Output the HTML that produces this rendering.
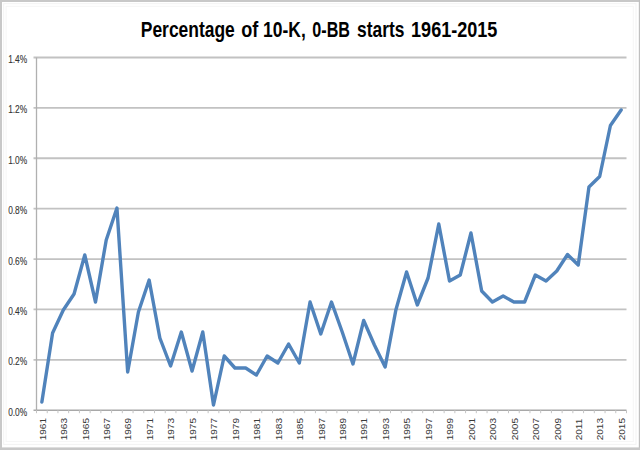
<!DOCTYPE html>
<html><head><meta charset="utf-8"><style>
html,body{margin:0;padding:0;background:#fff;}
svg{display:block;}
</style></head><body>
<svg width="640" height="450" viewBox="0 0 640 450">
<rect x="0" y="0" width="640" height="450" fill="#fff"/>
<rect x="0" y="0" width="640" height="2" fill="#c8c8c8"/><rect x="0" y="0" width="2" height="450" fill="#c8c8c8"/><rect x="638.8" y="0" width="1.2" height="450" fill="#c0c0c0"/><rect x="0" y="447.4" width="640" height="2.6" fill="#c8c8c8"/>
<rect x="3.7" y="3.7" width="632.3" height="440.7" fill="none" stroke="#f3f3f3" stroke-width="1"/>
<rect x="6.1" y="6.3" width="627.2" height="435.2" fill="none" stroke="#f6f6f6" stroke-width="1"/>
<g font-family="'Liberation Sans', sans-serif" font-weight="bold" font-size="21.8" fill="#000">
<text transform="translate(140.80,36.5) scale(0.8000,1)">Percentage</text>
<text transform="translate(241.17,36.5) scale(0.8300,1)">of</text>
<text transform="translate(263.10,36.5) scale(0.8000,1)">10-K,</text>
<text transform="translate(312.36,36.5) scale(0.7408,1)">0-BB</text>
<text transform="translate(357.00,36.5) scale(0.7983,1)">starts</text>
<text transform="translate(411.07,36.5) scale(0.8282,1)">1961-2015</text>
</g>
<g>
<line x1="33.5" y1="359.81" x2="626.5" y2="359.81" stroke="#c2c2c2" stroke-width="1.8"/>
<line x1="33.5" y1="309.43" x2="626.5" y2="309.43" stroke="#c2c2c2" stroke-width="1.8"/>
<line x1="33.5" y1="259.04" x2="626.5" y2="259.04" stroke="#c2c2c2" stroke-width="1.8"/>
<line x1="33.5" y1="208.66" x2="626.5" y2="208.66" stroke="#c2c2c2" stroke-width="1.8"/>
<line x1="33.5" y1="158.27" x2="626.5" y2="158.27" stroke="#c2c2c2" stroke-width="1.8"/>
<line x1="33.5" y1="107.89" x2="626.5" y2="107.89" stroke="#c2c2c2" stroke-width="1.8"/>
<line x1="33.5" y1="57.50" x2="626.5" y2="57.50" stroke="#c2c2c2" stroke-width="1.8"/>
</g>
<line x1="36.5" y1="57.5" x2="36.5" y2="410.2" stroke="#b0b0b0" stroke-width="1.3"/>
<line x1="33.5" y1="410.2" x2="626.5" y2="410.2" stroke="#a8a8a8" stroke-width="1.6"/>
<g>
<line x1="36.50" y1="410.2" x2="36.50" y2="413.2" stroke="#c4c4c4" stroke-width="1"/>
<line x1="47.23" y1="410.2" x2="47.23" y2="413.2" stroke="#c4c4c4" stroke-width="1"/>
<line x1="57.95" y1="410.2" x2="57.95" y2="413.2" stroke="#c4c4c4" stroke-width="1"/>
<line x1="68.68" y1="410.2" x2="68.68" y2="413.2" stroke="#c4c4c4" stroke-width="1"/>
<line x1="79.41" y1="410.2" x2="79.41" y2="413.2" stroke="#c4c4c4" stroke-width="1"/>
<line x1="90.14" y1="410.2" x2="90.14" y2="413.2" stroke="#c4c4c4" stroke-width="1"/>
<line x1="100.86" y1="410.2" x2="100.86" y2="413.2" stroke="#c4c4c4" stroke-width="1"/>
<line x1="111.59" y1="410.2" x2="111.59" y2="413.2" stroke="#c4c4c4" stroke-width="1"/>
<line x1="122.32" y1="410.2" x2="122.32" y2="413.2" stroke="#c4c4c4" stroke-width="1"/>
<line x1="133.05" y1="410.2" x2="133.05" y2="413.2" stroke="#c4c4c4" stroke-width="1"/>
<line x1="143.77" y1="410.2" x2="143.77" y2="413.2" stroke="#c4c4c4" stroke-width="1"/>
<line x1="154.50" y1="410.2" x2="154.50" y2="413.2" stroke="#c4c4c4" stroke-width="1"/>
<line x1="165.23" y1="410.2" x2="165.23" y2="413.2" stroke="#c4c4c4" stroke-width="1"/>
<line x1="175.95" y1="410.2" x2="175.95" y2="413.2" stroke="#c4c4c4" stroke-width="1"/>
<line x1="186.68" y1="410.2" x2="186.68" y2="413.2" stroke="#c4c4c4" stroke-width="1"/>
<line x1="197.41" y1="410.2" x2="197.41" y2="413.2" stroke="#c4c4c4" stroke-width="1"/>
<line x1="208.14" y1="410.2" x2="208.14" y2="413.2" stroke="#c4c4c4" stroke-width="1"/>
<line x1="218.86" y1="410.2" x2="218.86" y2="413.2" stroke="#c4c4c4" stroke-width="1"/>
<line x1="229.59" y1="410.2" x2="229.59" y2="413.2" stroke="#c4c4c4" stroke-width="1"/>
<line x1="240.32" y1="410.2" x2="240.32" y2="413.2" stroke="#c4c4c4" stroke-width="1"/>
<line x1="251.05" y1="410.2" x2="251.05" y2="413.2" stroke="#c4c4c4" stroke-width="1"/>
<line x1="261.77" y1="410.2" x2="261.77" y2="413.2" stroke="#c4c4c4" stroke-width="1"/>
<line x1="272.50" y1="410.2" x2="272.50" y2="413.2" stroke="#c4c4c4" stroke-width="1"/>
<line x1="283.23" y1="410.2" x2="283.23" y2="413.2" stroke="#c4c4c4" stroke-width="1"/>
<line x1="293.95" y1="410.2" x2="293.95" y2="413.2" stroke="#c4c4c4" stroke-width="1"/>
<line x1="304.68" y1="410.2" x2="304.68" y2="413.2" stroke="#c4c4c4" stroke-width="1"/>
<line x1="315.41" y1="410.2" x2="315.41" y2="413.2" stroke="#c4c4c4" stroke-width="1"/>
<line x1="326.14" y1="410.2" x2="326.14" y2="413.2" stroke="#c4c4c4" stroke-width="1"/>
<line x1="336.86" y1="410.2" x2="336.86" y2="413.2" stroke="#c4c4c4" stroke-width="1"/>
<line x1="347.59" y1="410.2" x2="347.59" y2="413.2" stroke="#c4c4c4" stroke-width="1"/>
<line x1="358.32" y1="410.2" x2="358.32" y2="413.2" stroke="#c4c4c4" stroke-width="1"/>
<line x1="369.05" y1="410.2" x2="369.05" y2="413.2" stroke="#c4c4c4" stroke-width="1"/>
<line x1="379.77" y1="410.2" x2="379.77" y2="413.2" stroke="#c4c4c4" stroke-width="1"/>
<line x1="390.50" y1="410.2" x2="390.50" y2="413.2" stroke="#c4c4c4" stroke-width="1"/>
<line x1="401.23" y1="410.2" x2="401.23" y2="413.2" stroke="#c4c4c4" stroke-width="1"/>
<line x1="411.95" y1="410.2" x2="411.95" y2="413.2" stroke="#c4c4c4" stroke-width="1"/>
<line x1="422.68" y1="410.2" x2="422.68" y2="413.2" stroke="#c4c4c4" stroke-width="1"/>
<line x1="433.41" y1="410.2" x2="433.41" y2="413.2" stroke="#c4c4c4" stroke-width="1"/>
<line x1="444.14" y1="410.2" x2="444.14" y2="413.2" stroke="#c4c4c4" stroke-width="1"/>
<line x1="454.86" y1="410.2" x2="454.86" y2="413.2" stroke="#c4c4c4" stroke-width="1"/>
<line x1="465.59" y1="410.2" x2="465.59" y2="413.2" stroke="#c4c4c4" stroke-width="1"/>
<line x1="476.32" y1="410.2" x2="476.32" y2="413.2" stroke="#c4c4c4" stroke-width="1"/>
<line x1="487.05" y1="410.2" x2="487.05" y2="413.2" stroke="#c4c4c4" stroke-width="1"/>
<line x1="497.77" y1="410.2" x2="497.77" y2="413.2" stroke="#c4c4c4" stroke-width="1"/>
<line x1="508.50" y1="410.2" x2="508.50" y2="413.2" stroke="#c4c4c4" stroke-width="1"/>
<line x1="519.23" y1="410.2" x2="519.23" y2="413.2" stroke="#c4c4c4" stroke-width="1"/>
<line x1="529.95" y1="410.2" x2="529.95" y2="413.2" stroke="#c4c4c4" stroke-width="1"/>
<line x1="540.68" y1="410.2" x2="540.68" y2="413.2" stroke="#c4c4c4" stroke-width="1"/>
<line x1="551.41" y1="410.2" x2="551.41" y2="413.2" stroke="#c4c4c4" stroke-width="1"/>
<line x1="562.14" y1="410.2" x2="562.14" y2="413.2" stroke="#c4c4c4" stroke-width="1"/>
<line x1="572.86" y1="410.2" x2="572.86" y2="413.2" stroke="#c4c4c4" stroke-width="1"/>
<line x1="583.59" y1="410.2" x2="583.59" y2="413.2" stroke="#c4c4c4" stroke-width="1"/>
<line x1="594.32" y1="410.2" x2="594.32" y2="413.2" stroke="#c4c4c4" stroke-width="1"/>
<line x1="605.05" y1="410.2" x2="605.05" y2="413.2" stroke="#c4c4c4" stroke-width="1"/>
<line x1="615.77" y1="410.2" x2="615.77" y2="413.2" stroke="#c4c4c4" stroke-width="1"/>
<line x1="626.50" y1="410.2" x2="626.50" y2="413.2" stroke="#c4c4c4" stroke-width="1"/>
</g>
<g font-family="'Liberation Sans', sans-serif" font-size="10.2" fill="#333" stroke="#333" stroke-width="0.1">
<text transform="translate(27.2,415.80) scale(0.82,1)" text-anchor="end">0.0%</text>
<text transform="translate(27.2,365.41) scale(0.82,1)" text-anchor="end">0.2%</text>
<text transform="translate(27.2,315.03) scale(0.82,1)" text-anchor="end">0.4%</text>
<text transform="translate(27.2,264.64) scale(0.82,1)" text-anchor="end">0.6%</text>
<text transform="translate(27.2,214.26) scale(0.82,1)" text-anchor="end">0.8%</text>
<text transform="translate(27.2,163.87) scale(0.82,1)" text-anchor="end">1.0%</text>
<text transform="translate(27.2,113.49) scale(0.82,1)" text-anchor="end">1.2%</text>
<text transform="translate(27.2,63.10) scale(0.82,1)" text-anchor="end">1.4%</text>
</g>
<g font-family="'Liberation Sans', sans-serif" font-size="8.6" fill="#3a3a3a">
<text transform="translate(45.66,440.3) rotate(-90) scale(1.17,1)">1961</text>
<text transform="translate(67.12,440.3) rotate(-90) scale(1.17,1)">1963</text>
<text transform="translate(88.57,440.3) rotate(-90) scale(1.17,1)">1965</text>
<text transform="translate(110.03,440.3) rotate(-90) scale(1.17,1)">1967</text>
<text transform="translate(131.48,440.3) rotate(-90) scale(1.17,1)">1969</text>
<text transform="translate(152.94,440.3) rotate(-90) scale(1.17,1)">1971</text>
<text transform="translate(174.39,440.3) rotate(-90) scale(1.17,1)">1973</text>
<text transform="translate(195.85,440.3) rotate(-90) scale(1.17,1)">1975</text>
<text transform="translate(217.30,440.3) rotate(-90) scale(1.17,1)">1977</text>
<text transform="translate(238.75,440.3) rotate(-90) scale(1.17,1)">1979</text>
<text transform="translate(260.21,440.3) rotate(-90) scale(1.17,1)">1981</text>
<text transform="translate(281.66,440.3) rotate(-90) scale(1.17,1)">1983</text>
<text transform="translate(303.12,440.3) rotate(-90) scale(1.17,1)">1985</text>
<text transform="translate(324.57,440.3) rotate(-90) scale(1.17,1)">1987</text>
<text transform="translate(346.03,440.3) rotate(-90) scale(1.17,1)">1989</text>
<text transform="translate(367.48,440.3) rotate(-90) scale(1.17,1)">1991</text>
<text transform="translate(388.94,440.3) rotate(-90) scale(1.17,1)">1993</text>
<text transform="translate(410.39,440.3) rotate(-90) scale(1.17,1)">1995</text>
<text transform="translate(431.85,440.3) rotate(-90) scale(1.17,1)">1997</text>
<text transform="translate(453.30,440.3) rotate(-90) scale(1.17,1)">1999</text>
<text transform="translate(474.75,440.3) rotate(-90) scale(1.17,1)">2001</text>
<text transform="translate(496.21,440.3) rotate(-90) scale(1.17,1)">2003</text>
<text transform="translate(517.66,440.3) rotate(-90) scale(1.17,1)">2005</text>
<text transform="translate(539.12,440.3) rotate(-90) scale(1.17,1)">2007</text>
<text transform="translate(560.57,440.3) rotate(-90) scale(1.17,1)">2009</text>
<text transform="translate(582.03,440.3) rotate(-90) scale(1.17,1)">2011</text>
<text transform="translate(603.48,440.3) rotate(-90) scale(1.17,1)">2013</text>
<text transform="translate(624.94,440.3) rotate(-90) scale(1.17,1)">2015</text>
</g>
<polyline points="41.86,402.0 52.59,333.0 63.32,310.0 74.05,294.0 84.77,255.0 95.50,302.0 106.23,240.0 116.95,208.0 127.68,372.0 138.41,312.0 149.14,280.0 159.86,338.0 170.59,366.0 181.32,332.0 192.05,371.0 202.77,332.0 213.50,405.0 224.23,356.0 234.95,368.0 245.68,368.0 256.41,375.0 267.14,356.0 277.86,363.0 288.59,344.0 299.32,363.0 310.05,302.0 320.77,334.0 331.50,302.0 342.23,332.0 352.95,364.0 363.68,320.5 374.41,345.0 385.14,367.0 395.86,310.0 406.59,272.0 417.32,305.0 428.05,278.0 438.77,224.0 449.50,281.0 460.23,275.0 470.95,233.0 481.68,291.0 492.41,302.0 503.14,296.0 513.86,302.0 524.59,302.0 535.32,275.0 546.05,281.0 556.77,271.0 567.50,254.5 578.23,265.0 588.95,187.0 599.68,176.5 610.41,125.5 621.14,110.0" fill="none" stroke="#5083bb" stroke-width="3.4" stroke-linejoin="round" stroke-linecap="round"/>
</svg>
</body></html>
